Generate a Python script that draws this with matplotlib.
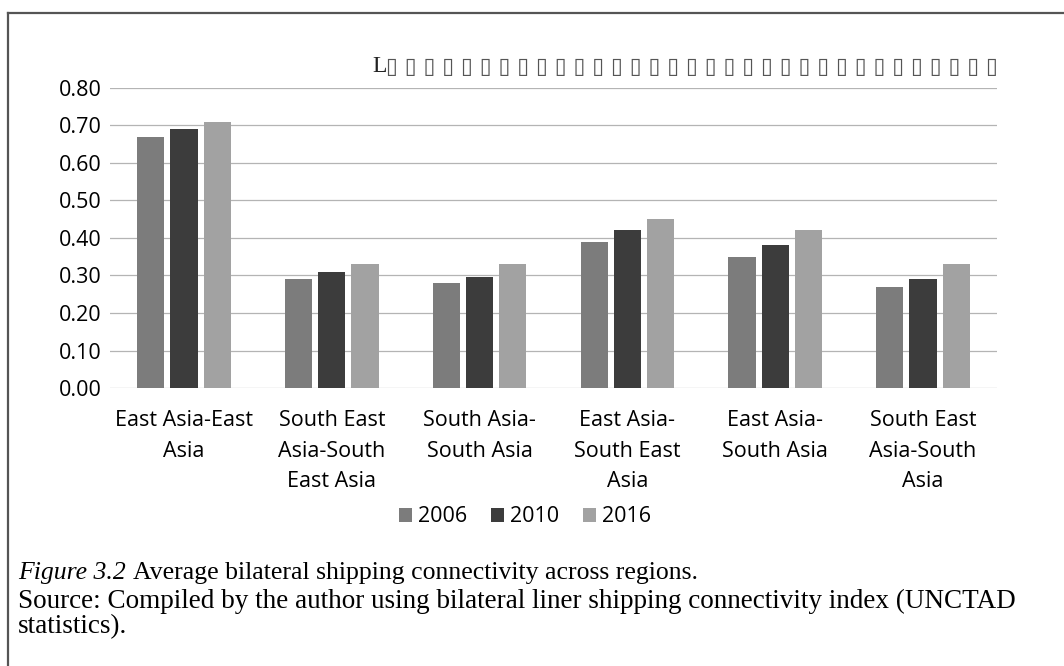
import matplotlib.pyplot as plt
import numpy as np
from matplotlib.lines import Line2D

categories = [
    "East Asia-East\nAsia",
    "South East\nAsia-South\nEast Asia",
    "South Asia-\nSouth Asia",
    "East Asia-\nSouth East\nAsia",
    "East Asia-\nSouth Asia",
    "South East\nAsia-South\nAsia",
]
years = ["2006", "2010", "2016"]
values_2006 = [0.67, 0.29, 0.28, 0.39, 0.35, 0.27]
values_2010 = [0.69, 0.31, 0.295, 0.42, 0.38, 0.29]
values_2016 = [0.71, 0.33, 0.33, 0.45, 0.42, 0.33]
yticks = [0.0, 0.1, 0.2, 0.3, 0.4, 0.5, 0.6, 0.7, 0.8]

title_boxes = "\u25af " * 33
caption_head = "Figure 3.2"
caption_text = "Average bilateral shipping connectivity across regions."
source_line1 = ("Source: Compiled by the author using bilateral liner shipping "
                "connectivity index (UNCTAD")
source_line2 = "statistics)."

plt.rcParams.update({"font.family": ["Open Sans", "DejaVu Sans"]})

fig = plt.figure(figsize=(10.64, 6.66), dpi=100)
ax = fig.add_axes([0.1034, 0.4174, 0.8336, 0.4505])

colors = ["#7c7c7c", "#3c3c3c", "#a2a2a2"]
x = np.arange(len(categories))
width = 0.184
step = 0.225
for i, (label, vals) in enumerate(zip(years, [values_2006, values_2010, values_2016])):
    ax.bar(x + (i - 1) * step, vals, width, color=colors[i], label=label, zorder=3)

ax.set_xlim(-0.5, len(categories) - 0.5)
ax.set_ylim(0, 0.8)
ax.set_yticks(yticks)
ax.set_yticklabels([f"{v:.2f}" for v in yticks], fontsize=15.5)
ax.set_xticks(x)
ax.set_xticklabels(categories, fontsize=15.5, linespacing=1.6)
ax.tick_params(axis="both", length=0)
ax.tick_params(axis="x", pad=16)
ax.tick_params(axis="y", pad=6)
ax.grid(axis="y", color="#b4b4b4", linewidth=0.9, zorder=0)
for side in ["top", "right", "left", "bottom"]:
    ax.spines[side].set_visible(False)

fig.legend(loc="center", bbox_to_anchor=(525 / 1064, 1 - 517 / 666), ncol=3,
           frameon=False, fontsize=15.5, handlelength=0.6, handleheight=0.6,
           handletextpad=0.3, columnspacing=1.1)

fig.text(372 / 1064, 1 - 67 / 666, "L", family="Liberation Serif",
         fontsize=17, color="#222222", va="center", ha="left")
fig.text(386 / 1064, 1 - 67 / 666, title_boxes, family="DejaVu Sans",
         fontsize=15.5, color="#555555", va="center", ha="left")

fig.text(18 / 1064, 1 - 573 / 666, caption_head, family="Liberation Serif",
         style="italic", fontsize=18.5, va="center", ha="left")
fig.text(133 / 1064, 1 - 573 / 666, caption_text, family="Liberation Serif",
         fontsize=18.5, va="center", ha="left")
fig.text(18 / 1064, 1 - 601 / 666, source_line1, family="Liberation Serif",
         fontsize=19.5, va="center", ha="left")
fig.text(18 / 1064, 1 - 627 / 666, source_line2, family="Liberation Serif",
         fontsize=19.5, va="center", ha="left")

fig.add_artist(Line2D([8 / 1064, 1], [1 - 13 / 666, 1 - 13 / 666],
                      transform=fig.transFigure, color="#555555", linewidth=1.6))
fig.add_artist(Line2D([8 / 1064, 8 / 1064], [0, 1 - 13 / 666],
                      transform=fig.transFigure, color="#555555", linewidth=1.6))

fig.savefig("out.png", dpi=100)
